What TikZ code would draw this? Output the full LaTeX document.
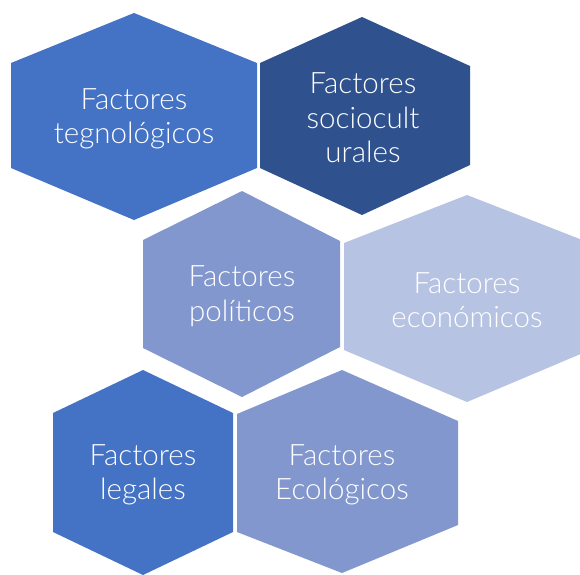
\documentclass[tikz,border=0pt]{standalone}
\usepackage{fontspec}
\setmainfont{Lato Light}
\definecolor{hexA}{HTML}{4472C4}
\definecolor{hexB}{HTML}{2F528F}
\definecolor{hexC}{HTML}{8297CE}
\definecolor{hexD}{HTML}{B6C3E2}
\begin{document}
\begin{tikzpicture}[x=1pt,y=-1pt,
  hexfill/.style={fill=#1,draw=none},
  hextext/.style={text=white,align=center,inner sep=0pt,font=\fontsize{29.5}{34.5}\selectfont}]
\useasboundingbox (0,0) rectangle (580,574);
\clip (0,0) rectangle (580,574);
% tegnologicos
\path[hexfill=hexA] (134,13) -- (257,63) -- (257,168) -- (134,220) -- (11,168) -- (11,63) -- cycle;
\node[hextext] (teg) at (134,119) {Factores\\tegnológicos};
% socioculturales
\path[hexfill=hexB] (362,17) -- (470,66) -- (470,165) -- (362,215) -- (260,168) -- (260,63) -- cycle;
\node[hextext] (soc) at (363,118) {Factores\\sociocult\\urales};
% politicos
\path[hexfill=hexC] (242,191) -- (340,241) -- (340,347) -- (242,397) -- (143,348) -- (143,240) -- cycle;
\node[hextext] (pol) at (242,296) {Factores\\políticos};
% economicos
\path[hexfill=hexD] (467,195) -- (590,243) -- (590,350) -- (467,402) -- (344,350) -- (344,243) -- cycle;
\node[hextext] (eco) at (467,300) {Factores\\económicos};
% legales
\path[hexfill=hexA] (143,370) -- (233,413) -- (233,532) -- (143,575) -- (53,532) -- (53,413) -- cycle;
\node[hextext] (leg) at (143,475) {Factores\\legales};
% ecologicos
\path[hexfill=hexC] (342,370) -- (458,421) -- (458,525) -- (342,573) -- (237,532) -- (237,414) -- cycle;
\node[hextext] (ecol) at (342,475) {Factores\\Ecológicos};
\end{tikzpicture}
\end{document}
